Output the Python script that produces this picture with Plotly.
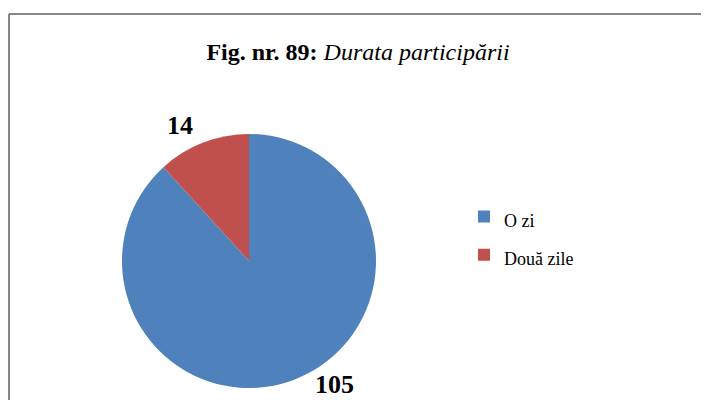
import plotly.graph_objects as go

categories = ["O zi", "Două zile"]
values = [105, 14]
colors = ["#4F81BD", "#C0504D"]

W, H = 709, 400
# page offset compensation (browser body margin)
OX, OY = 8, 8


def px(x):
    return (x - OX) / W


def py(y):
    return 1 - (y - OY) / H


fig = go.Figure(go.Pie(
    labels=[f"<span style='font-size:18px'>{c}</span>" for c in categories],
    values=values,
    sort=False,
    direction="clockwise",
    rotation=0,
    marker=dict(colors=colors, line=dict(width=0)),
    textinfo="none",
    domain=dict(x=[px(122), px(376)], y=[py(388), py(134)]),
    hovertemplate="%{label}: %{value}<extra></extra>",
))

# data labels placed beside their slices (label positions in pixels of the picture)
label_pos = [(334, 384), (180, 126)]
for v, (lx, ly) in zip(values, label_pos):
    fig.add_annotation(
        text=f"<b>{v}</b>", x=px(lx), y=py(ly), xref="paper", yref="paper",
        xanchor="center", yanchor="middle", showarrow=False,
        font=dict(family="Liberation Serif", size=26, color="black"),
    )

fig.update_layout(
    width=W, height=H,
    margin=dict(l=0, r=0, t=0, b=0),
    paper_bgcolor="white",
    font=dict(family="Liberation Serif", color="black"),
    title=dict(
        text="<b>Fig. nr. 89:</b> <i>Durata participării</i>",
        x=px(358), xanchor="center", y=py(52), yanchor="middle",
        font=dict(family="Liberation Serif", size=24, color="black"),
    ),
    legend=dict(
        x=px(464), xanchor="left", y=py(236), yanchor="middle",
        font=dict(family="Liberation Serif", size=27, color="black"),
        itemwidth=30,
    ),
    shapes=[
        dict(type="line", xref="paper", yref="paper",
             x0=px(9), x1=1.2, y0=py(14), y1=py(14),
             line=dict(color="#888888", width=2)),
        dict(type="line", xref="paper", yref="paper",
             x0=px(9), x1=px(9), y0=py(14), y1=-0.2,
             line=dict(color="#888888", width=2)),
    ],
)

fig.write_html("out.html")
